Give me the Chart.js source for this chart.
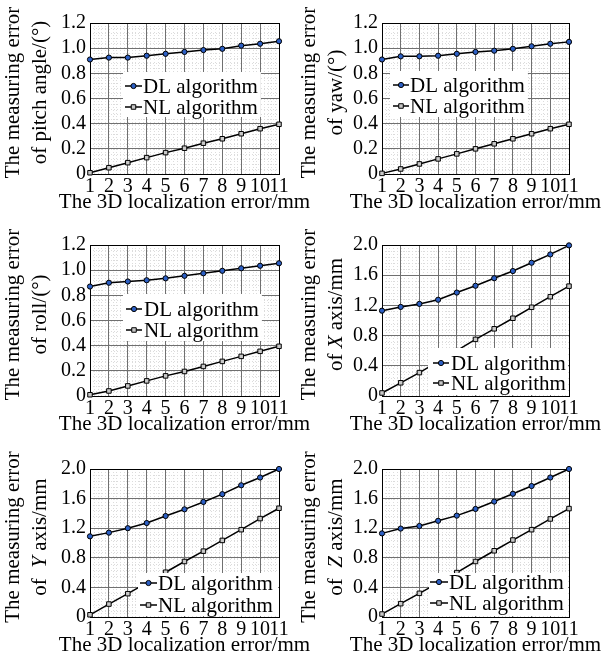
<!DOCTYPE html>
<html>
<head>
<meta charset="utf-8">
<script src="https://cdn.jsdelivr.net/npm/chart.js@4.4.0/dist/chart.umd.min.js"></script>
<style>
  body { margin: 0; background: #fff; width: 606px; height: 665px; position: relative; overflow: hidden; }
  canvas { position: absolute; }
</style>
</head>
<body>
<canvas id="c1" width="330" height="220" style="left:0;top:0"></canvas>
<canvas id="c2" width="310" height="220" style="left:296px;top:0"></canvas>
<canvas id="c3" width="330" height="220" style="left:0;top:222px"></canvas>
<canvas id="c4" width="310" height="220" style="left:296px;top:222px"></canvas>
<canvas id="c5" width="330" height="217" style="left:0;top:446px"></canvas>
<canvas id="c6" width="310" height="217" style="left:296px;top:446px"></canvas>
<script>
// values
const xValues = [1, 2, 3, 4, 5, 6, 7, 8, 9, 10, 11];
const angleTicks = [0, 0.2, 0.4, 0.6, 0.8, 1.0, 1.2];
const mmTicks = [0, 0.4, 0.8, 1.2, 1.6, 2.0];
const seriesNames = ['DL algorithm', 'NL algorithm'];

const pitchDL = [0.91, 0.925, 0.925, 0.94, 0.955, 0.97, 0.985, 0.995, 1.02, 1.035, 1.055];
const pitchNL = [0.01, 0.05, 0.09, 0.13, 0.17, 0.205, 0.245, 0.28, 0.32, 0.36, 0.395];
const yawDL = [0.91, 0.935, 0.935, 0.94, 0.955, 0.97, 0.98, 0.995, 1.015, 1.035, 1.05];
const yawNL = [0.005, 0.04, 0.08, 0.12, 0.16, 0.2, 0.24, 0.28, 0.32, 0.36, 0.395];
const rollDL = [0.87, 0.9, 0.91, 0.92, 0.935, 0.955, 0.975, 0.995, 1.015, 1.035, 1.055];
const rollNL = [0.01, 0.04, 0.08, 0.12, 0.16, 0.195, 0.235, 0.275, 0.315, 0.355, 0.395];
const xAxisDL = [1.13, 1.18, 1.22, 1.275, 1.37, 1.46, 1.56, 1.655, 1.765, 1.875, 1.995];
const xAxisNL = [0.04, 0.175, 0.31, 0.455, 0.6, 0.75, 0.89, 1.03, 1.175, 1.315, 1.455];
const yAxisDL = [1.09, 1.14, 1.2, 1.27, 1.365, 1.455, 1.555, 1.66, 1.78, 1.885, 2.0];
const yAxisNL = [0.03, 0.175, 0.315, 0.46, 0.605, 0.75, 0.89, 1.035, 1.18, 1.33, 1.47];
const zAxisDL = [1.13, 1.195, 1.23, 1.3, 1.37, 1.46, 1.56, 1.665, 1.77, 1.885, 2.0];
const zAxisNL = [0.04, 0.18, 0.32, 0.46, 0.6, 0.75, 0.895, 1.04, 1.18, 1.325, 1.465];

const xTitle = 'The 3D localization error/mm';
const yTitleTop = 'The measuring error';

const FONT = '"Liberation Serif", "Times New Roman", serif';
const DL_STYLE = { pointStyle: 'circle', radius: 2.6, fill: '#2c5fc4' };
const NL_STYLE = { pointStyle: 'rect', radius: 3.2, fill: '#c8c8c8' };

const fmt = v => v === 0 ? '0' : v.toFixed(1);

// dotted fine grid under the main grid
const minorGrid = {
  id: 'minorGrid',
  beforeDraw(chart, args, opts) {
    const { ctx, chartArea: a, scales: { x, y } } = chart;
    ctx.save();
    ctx.strokeStyle = '#dcdcdc';
    ctx.lineWidth = 1;
    ctx.setLineDash([1, 2]);
    const nx = Math.round((x.max - x.min) / opts.xStep);
    for (let i = 1; i < nx; i++) {
      const px = Math.round(x.getPixelForValue(x.min + i * opts.xStep)) + 0.5;
      ctx.beginPath(); ctx.moveTo(px, a.top); ctx.lineTo(px, a.bottom); ctx.stroke();
    }
    const ny = Math.round((y.max - y.min) / opts.yStep);
    for (let i = 1; i < ny; i++) {
      const py = Math.round(y.getPixelForValue(y.min + i * opts.yStep)) + 0.5;
      ctx.beginPath(); ctx.moveTo(a.left, py); ctx.lineTo(a.right, py); ctx.stroke();
    }
    ctx.restore();
  }
};

// axis titles (mixed italic pieces on the y title)
const titles = {
  id: 'titles',
  afterDraw(chart, args, opts) {
    const { ctx, chartArea: a } = chart;
    ctx.save();
    ctx.fillStyle = '#000';
    ctx.textBaseline = 'middle';
    ctx.font = '21px ' + FONT;
    ctx.textAlign = 'center';
    ctx.fillText(xTitle, (a.left + a.right) / 2, a.bottom + opts.xTitleDy);

    const cy = (a.top + a.bottom) / 2 + opts.yShift;
    opts.yLines.forEach((segs, i) => {
      ctx.save();
      ctx.translate(opts.yX + i * opts.yGap, cy);
      ctx.rotate(-Math.PI / 2);
      ctx.textAlign = 'left';
      let w = 0;
      segs.forEach(s => { ctx.font = (s.i ? 'italic ' : '') + '21px ' + FONT; w += ctx.measureText(s.t).width; });
      let px = -w / 2;
      segs.forEach(s => {
        ctx.font = (s.i ? 'italic ' : '') + '21px ' + FONT;
        ctx.fillText(s.t, px, 0);
        px += ctx.measureText(s.t).width;
      });
      ctx.restore();
    });
    ctx.restore();
  }
};

// legend drawn inside the plot on a white box
const boxLegend = {
  id: 'boxLegend',
  afterDraw(chart, args, o) {
    const { ctx, chartArea: a } = chart;
    ctx.save();
    ctx.font = '21px ' + FONT;
    const textW = Math.max(...seriesNames.map(n => ctx.measureText(n).width));
    const left = a.left + o.boxX;
    const top = a.top + o.boxY;
    const right = o.fill ? a.right - 1 : a.left + o.textX + textW + 3;
    const bottom = o.fill ? a.bottom - 1 : a.top + o.boxBottom;
    ctx.fillStyle = '#fff';
    ctx.fillRect(left, top, right - left, bottom - top);

    [DL_STYLE, NL_STYLE].forEach((st, i) => {
      const yy = a.top + o.rows[i];
      const x0 = a.left + o.sample[0], x1 = a.left + o.sample[1];
      ctx.strokeStyle = '#000';
      ctx.lineWidth = 1.5;
      ctx.beginPath(); ctx.moveTo(x0, yy); ctx.lineTo(x1, yy); ctx.stroke();
      ctx.fillStyle = st.fill;
      ctx.lineWidth = 1;
      Chart.helpers.drawPoint(ctx, { pointStyle: st.pointStyle, radius: st.radius, borderWidth: 1, rotation: 0 }, (x0 + x1) / 2, yy);
      ctx.fillStyle = '#000';
      ctx.textAlign = 'left';
      ctx.textBaseline = 'middle';
      ctx.fillText(seriesNames[i], a.left + o.textX, yy + 1);
    });
    ctx.restore();
  }
};

function makePanel(id, dl, nl, yTicks, yLine2, yAxisW, rightPad, legend) {
  const yMax = yTicks[yTicks.length - 1];
  const toPts = arr => xValues.map((x, i) => ({ x: x, y: arr[i] }));
  const ds = (label, arr, st) => ({
    label: label,
    data: toPts(arr),
    borderColor: '#000',
    borderWidth: 1.5,
    tension: 0,
    pointStyle: st.pointStyle,
    pointRadius: st.radius,
    pointBackgroundColor: st.fill,
    pointBorderColor: '#000',
    pointBorderWidth: 1,
    clip: false
  });
  const edge = (c, lo, hi) => (c.tick && (c.tick.value === lo || c.tick.value === hi)) ? '#000' : '#707070';

  new Chart(document.getElementById(id), {
    type: 'line',
    data: { datasets: [ds(seriesNames[0], dl, DL_STYLE), ds(seriesNames[1], nl, NL_STYLE)] },
    plugins: [minorGrid, titles, boxLegend],
    options: {
      responsive: false,
      animation: false,
      layout: { padding: { top: 23, right: rightPad, left: 0, bottom: 0 } },
      scales: {
        x: {
          type: 'linear', min: 1, max: 11,
          afterBuildTicks: s => { s.ticks = xValues.map(v => ({ value: v })); },
          afterFit: s => { s.height = 46; },
          ticks: { autoSkip: false, maxRotation: 0, padding: 1, color: '#000', font: { family: FONT, size: 20 } },
          grid: { color: c => edge(c, 1, 11), lineWidth: 1, drawTicks: false },
          border: { color: '#000', width: 1 }
        },
        y: {
          min: 0, max: yMax,
          afterBuildTicks: s => { s.ticks = yTicks.map(v => ({ value: v })); },
          afterFit: s => { s.width = yAxisW; },
          ticks: { autoSkip: false, callback: v => fmt(v), padding: 4, color: '#000', font: { family: FONT, size: 20 } },
          grid: { color: c => edge(c, 0, yMax), lineWidth: 1, drawTicks: false },
          border: { color: '#000', width: 1 }
        }
      },
      plugins: {
        legend: { display: false },
        tooltip: { enabled: false },
        minorGrid: { xStep: 0.2, yStep: (yTicks[1] - yTicks[0]) / 5 },
        titles: {
          xTitleDy: 28,
          yX: 13, yGap: 27, yShift: -6,
          yLines: [[{ t: yTitleTop }], yLine2]
        },
        boxLegend: legend
      }
    }
  });
}

makePanel('c1', pitchDL, pitchNL, angleTicks, [{ t: 'of pitch angle/(°)' }], 90, 51,
  { boxX: 33, boxY: 49, boxBottom: 94, sample: [35, 52], textX: 53, rows: [63, 84] });
makePanel('c2', yawDL, yawNL, angleTicks, [{ t: 'of yaw/(°)' }], 86, 37,
  { boxX: 8, boxY: 48, boxBottom: 94, sample: [11, 27], textX: 28, rows: [62, 83] });
makePanel('c3', rollDL, rollNL, angleTicks, [{ t: 'of roll/(°)' }], 90, 51,
  { boxX: 33, boxY: 49, boxBottom: 96, sample: [36, 52], textX: 54, rows: [64, 85] });
makePanel('c4', xAxisDL, xAxisNL, mmTicks, [{ t: 'of ' }, { t: 'X', i: true }, { t: ' axis/mm' }], 86, 37,
  { boxX: 46, boxY: 103, fill: true, sample: [51, 67], textX: 69, rows: [118, 138] });
makePanel('c5', yAxisDL, yAxisNL, mmTicks, [{ t: 'of  ' }, { t: 'Y', i: true }, { t: ' axis/mm' }], 90, 51,
  { boxX: 48, boxY: 104, fill: true, sample: [50, 67], textX: 68, rows: [114, 136] });
makePanel('c6', zAxisDL, zAxisNL, mmTicks, [{ t: 'of  ' }, { t: 'Z', i: true }, { t: ' axis/mm' }], 86, 37,
  { boxX: 47, boxY: 104, fill: true, sample: [48, 66], textX: 67, rows: [113, 134] });
</script>
</body>
</html>
